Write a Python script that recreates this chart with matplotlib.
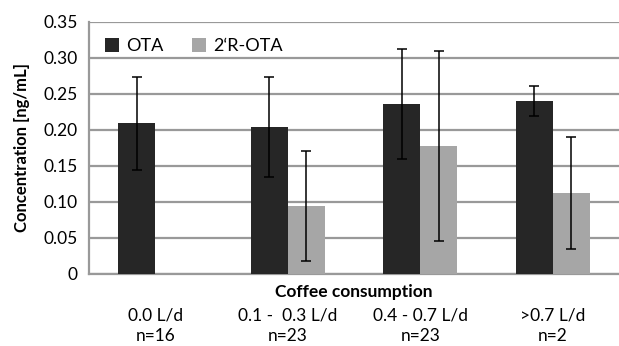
import numpy as np
from matplotlib import pyplot as plt

plt.rcParams["font.family"] = ["Lato", "DejaVu Sans"]
plt.rcParams.update({'font.size': 12.5})

# Mean concentrations and error bars per coffee intake group
groups = ["0.0 L/d\nn=16", "0.1 -  0.3 L/d\nn=23", "0.4 - 0.7 L/d\nn=23", ">0.7 L/d\nn=2"]
ota = [0.209, 0.204, 0.236, 0.240]
ota_err = [0.065, 0.069, 0.076, 0.021]
r_ota = [np.nan, 0.094, 0.178, 0.112]
r_ota_err = [np.nan, 0.076, 0.132, 0.078]

def main():
    fig = plt.figure(figsize=(6.19, 3.46), dpi=100)
    ax = fig.add_axes([89/619, 1 - 273.7/346, 530/619, 251.7/346])

    x = np.arange(len(groups))
    w = 0.28
    err_kw = dict(ecolor='black', elinewidth=1.1, capsize=3.5, capthick=1.1)
    ax.bar(x - w/2, ota, w, yerr=ota_err, color='#262626', label='OTA',
           error_kw=err_kw, zorder=3)
    ax.bar(x + w/2, r_ota, w, yerr=r_ota_err, color='#a6a6a6', label='2‘R-OTA',
           error_kw=err_kw, zorder=3)

    ax.set_xlim(-0.5, len(groups) - 0.5)
    ax.set_ylim(0, 0.35)
    ax.set_yticks(np.arange(0, 0.351, 0.05))
    ax.set_yticklabels(["0"] + ["{:.2f}".format(v) for v in np.arange(0.05, 0.351, 0.05)])
    ax.set_xticks(x)
    ax.set_xticklabels(groups, linespacing=1.42)
    ax.tick_params(length=0, pad=8)
    ax.tick_params(axis='x', pad=24)

    ax.yaxis.grid(True, color='#999999', linewidth=1.6, zorder=0)
    ax.set_axisbelow(True)
    for s in ['top', 'right']:
        ax.spines[s].set_visible(False)
    for s in ['left', 'bottom']:
        ax.spines[s].set_color('#999999')
        ax.spines[s].set_linewidth(1.6)

    ax.set_ylabel("Concentration [ng/mL]", fontweight='bold', fontsize=12, labelpad=10)
    ax.set_xlabel("Coffee consumption", fontweight='bold', fontsize=12.5)
    ax.xaxis.set_label_coords(0.5, -0.04)

    ax.legend(loc='upper left', ncol=2, frameon=False, handlelength=0.75,
              handleheight=0.75, columnspacing=1.6, handletextpad=0.4,
              bbox_to_anchor=(0.0, 1.0), fontsize=13)

    fig.savefig("out.png", dpi=100)

if __name__ == "__main__":
    main()
